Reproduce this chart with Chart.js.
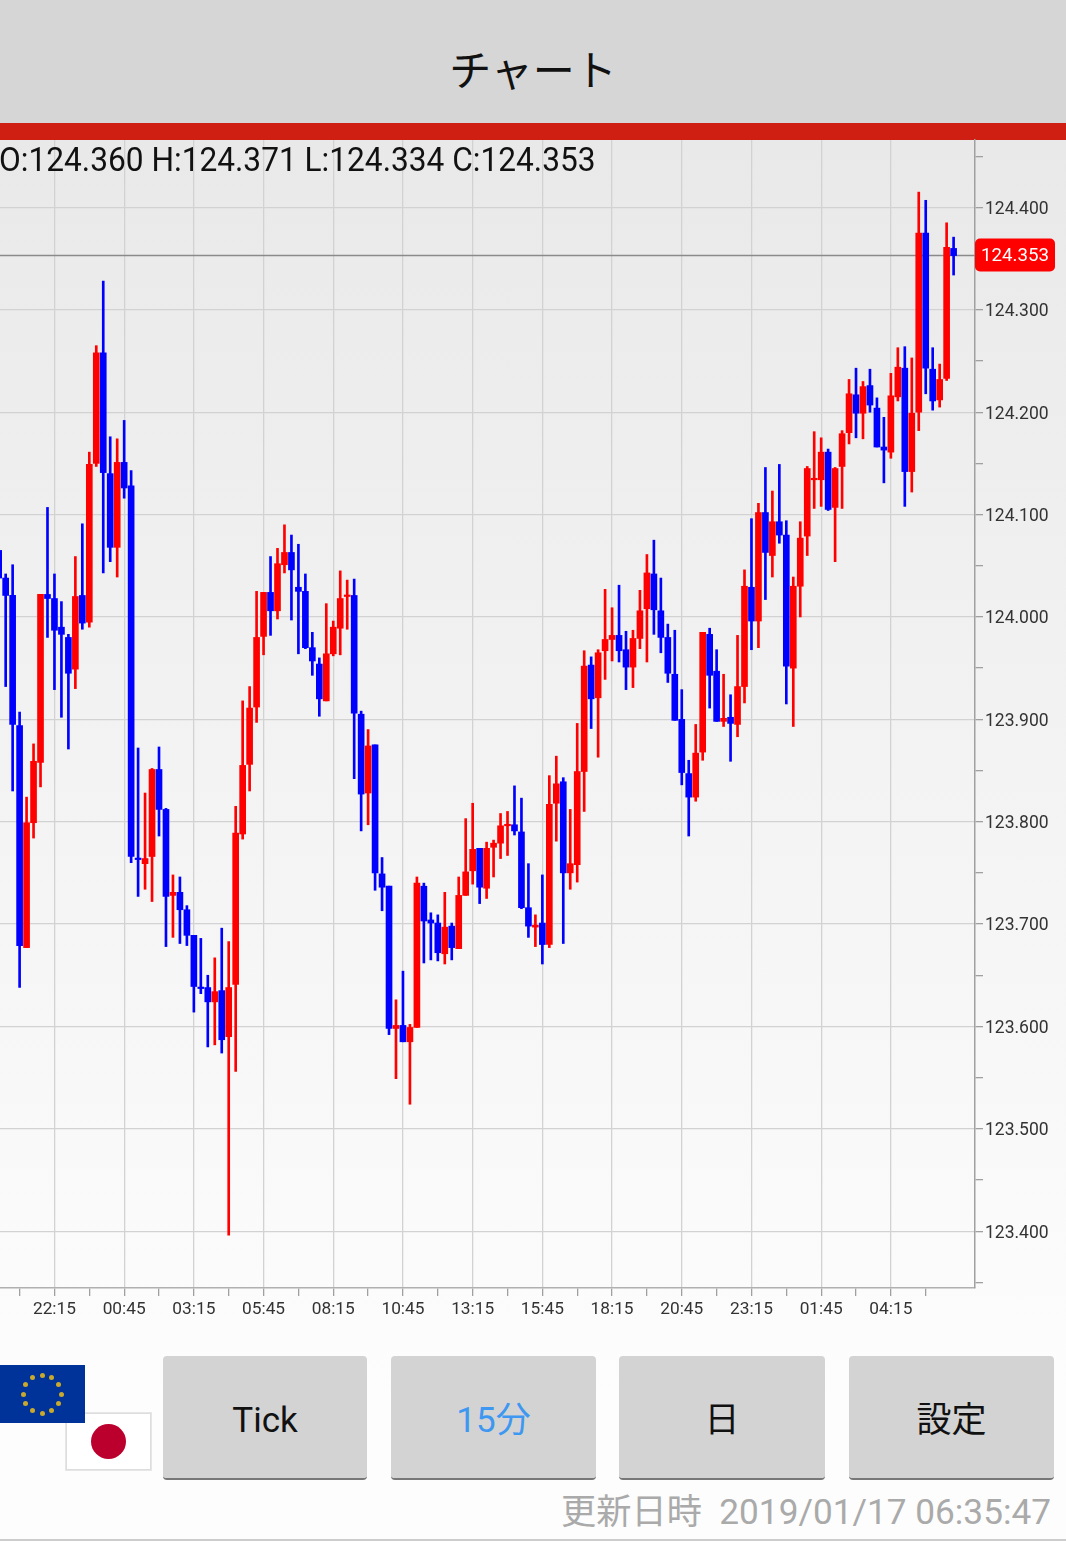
<!DOCTYPE html>
<html lang="ja">
<head>
<meta charset="utf-8">
<title>チャート</title>
<script src="https://cdn.jsdelivr.net/npm/chart.js@4"></script>
<style>
    html, body { margin: 0; padding: 0; }
    body {
        position: relative; width: 1066px; height: 1541px; overflow: hidden;
        background: linear-gradient(#e9e9e9 140px, #fdfdfd 1400px);
        font-family: Roboto, "Noto Sans CJK JP", sans-serif;
    }
    #header {
        position: absolute; left: 0; top: 0; width: 100%; height: 123px;
        background: #d6d6d6; text-align: center; font: 42px/136px "Noto Sans CJK JP", sans-serif; color: #111;
    }
    #redbar { position: absolute; left: 0; top: 123px; width: 100%; height: 17px; background: #cf1e12; }
    #chartWrap { position: absolute; left: 0; top: 0; width: 1066px; height: 1340px; }
    #ohlc {
        position: absolute; left: -1px; top: 138px; font-size: 34px; line-height: 42px; color: #111;
        white-space: pre; transform-origin: left top; transform: scaleX(0.931);
    }
    .btn {
        position: absolute; top: 1356px; height: 122px; background: #d3d3d3; border-radius: 4px;
        border-bottom: 2px solid #777; text-align: center; line-height: 130px; font-size: 35px; color: #111;
        font-family: Roboto, "Noto Sans CJK JP", sans-serif;
    }
    #flagEu { position: absolute; left: 0; top: 1365px; width: 85px; height: 58px; background: #003399; z-index: 2; }
    #flagEu i { position: absolute; width: 5px; height: 5px; border-radius: 50%; background: #c9a92c; }
    #flagJp {
        position: absolute; left: 66px; top: 1413px; width: 83px; height: 55px; background: #fff;
        border: 1px solid #ddd; outline: 1px solid #e6e6e6;
    }
    #flagJp b { position: absolute; left: 24px; top: 10px; width: 35px; height: 35px; border-radius: 50%; background: #bc002d; }
    #updated {
        position: absolute; right: 15px; top: 1490px; font-size: 35.2px; line-height: 44px; color: #aaa; white-space: pre;
    }
    #bottomLine { position: absolute; left: 0; top: 1539px; width: 100%; height: 2px; background: #ccc; }
</style>
</head>
<body>
<div id="header">チャート</div>
<div id="redbar"></div>
<div id="chartWrap"><canvas id="candleChart" width="1066" height="1340"></canvas></div>
<div id="ohlc"></div>
<div id="flagEu"></div>
<div id="flagJp"><b></b></div>
<div class="btn" style="left:163px;width:204px">Tick</div>
<div class="btn" style="left:391px;width:205px;color:#3e97f0">15分</div>
<div class="btn" style="left:619px;width:206px">日</div>
<div class="btn" style="left:849px;width:205px">設定</div>
<div id="updated">更新日時  2019/01/17 06:35:47</div>
<div id="bottomLine"></div>

<script>
// EUR/JPY 15分足 (読み取り値)
const opens = [
    124.065, 124.038, 124.021, 123.894, 123.677, 123.799, 123.858, 124.022, 124.018, 123.990,
    123.980, 123.949, 124.021, 123.995, 124.150, 124.258, 124.140, 124.068, 124.151, 124.128,
    123.764, 123.759, 123.766, 123.851, 123.812, 123.728, 123.731, 123.714, 123.689, 123.638,
    123.638, 123.624, 123.635, 123.590, 123.641, 123.788, 123.856, 123.912, 123.981, 124.024,
    124.006, 124.051, 124.063, 124.029, 124.025, 123.970, 123.954, 123.918, 123.964, 123.989,
    124.020, 124.021, 123.905, 123.828, 123.875, 123.749, 123.737, 123.598, 123.601, 123.585,
    123.599, 123.737, 123.704, 123.701, 123.671, 123.698, 123.676, 123.728, 123.752, 123.774,
    123.735, 123.775, 123.779, 123.796, 123.797, 123.790, 123.716, 123.697, 123.701, 123.680,
    123.818, 123.839, 123.750, 123.758, 123.849, 123.953, 123.921, 123.967, 123.978, 123.982,
    123.968, 123.951, 123.979, 124.008, 124.042, 124.006, 123.980, 123.944, 123.900, 123.847,
    123.824, 123.868, 123.983, 123.947, 123.898, 123.902, 123.895, 123.932, 124.029, 123.996,
    124.102, 124.060, 124.093, 124.080, 123.950, 124.030, 124.079, 124.134, 124.134, 124.161,
    124.107, 124.147, 124.180, 124.217, 124.199, 124.226, 124.204, 124.166, 124.161, 124.215,
    124.243, 124.142, 124.200, 124.375, 124.242, 124.212, 124.233, 124.360
];
const highs = [
    124.065, 124.042, 124.051, 123.907, 123.824, 123.876, 124.022, 124.107, 124.042, 124.015,
    123.983, 124.059, 124.091, 124.161, 124.265, 124.328, 124.176, 124.174, 124.192, 124.143,
    123.872, 123.828, 123.852, 123.873, 123.813, 123.748, 123.746, 123.718, 123.689, 123.686,
    123.650, 123.667, 123.696, 123.683, 123.815, 123.918, 123.932, 124.025, 124.024, 124.059,
    124.067, 124.090, 124.080, 124.071, 124.042, 123.985, 123.960, 124.013, 123.996, 124.045,
    124.036, 124.037, 123.908, 123.890, 123.875, 123.765, 123.737, 123.626, 123.654, 123.602,
    123.746, 123.740, 123.711, 123.709, 123.731, 123.701, 123.746, 123.803, 123.818, 123.774,
    123.780, 123.782, 123.808, 123.810, 123.835, 123.823, 123.759, 123.709, 123.748, 123.845,
    123.864, 123.843, 123.812, 123.896, 123.967, 123.961, 123.968, 124.027, 124.009, 124.031,
    123.986, 123.987, 124.026, 124.061, 124.075, 124.038, 123.993, 123.987, 123.929, 123.860,
    123.895, 123.985, 123.989, 123.968, 123.944, 123.924, 123.982, 124.046, 124.096, 124.111,
    124.146, 124.123, 124.149, 124.094, 124.039, 124.093, 124.147, 124.181, 124.175, 124.164,
    124.146, 124.182, 124.232, 124.243, 124.230, 124.242, 124.214, 124.195, 124.238, 124.263,
    124.264, 124.253, 124.415, 124.407, 124.263, 124.247, 124.385, 124.371
];
const lows = [
    124.038, 123.932, 123.830, 123.638, 123.677, 123.784, 123.834, 123.980, 123.929, 123.902,
    123.871, 123.930, 123.988, 123.990, 124.147, 124.043, 124.054, 124.039, 124.116, 123.760,
    123.727, 123.734, 123.722, 123.786, 123.678, 123.687, 123.681, 123.679, 123.614, 123.632,
    123.580, 123.582, 123.574, 123.396, 123.556, 123.783, 123.830, 123.897, 123.963, 123.982,
    123.998, 124.043, 123.997, 123.964, 123.969, 123.943, 123.903, 123.918, 123.962, 123.963,
    123.988, 123.842, 123.791, 123.797, 123.733, 123.713, 123.592, 123.549, 123.585, 123.524,
    123.599, 123.662, 123.665, 123.664, 123.661, 123.665, 123.676, 123.728, 123.739, 123.720,
    123.725, 123.746, 123.764, 123.767, 123.787, 123.715, 123.687, 123.678, 123.661, 123.677,
    123.781, 123.681, 123.734, 123.741, 123.810, 123.891, 123.863, 123.939, 123.957, 123.956,
    123.929, 123.931, 123.969, 123.956, 123.983, 123.965, 123.936, 123.899, 123.836, 123.786,
    123.820, 123.860, 123.911, 123.898, 123.893, 123.859, 123.883, 123.916, 123.968, 123.970,
    124.017, 124.039, 124.072, 123.915, 123.893, 124.000, 124.060, 124.106, 124.108, 124.104,
    124.054, 124.106, 124.169, 124.175, 124.174, 124.200, 124.166, 124.131, 124.155, 124.211,
    124.108, 124.122, 124.182, 124.218, 124.202, 124.205, 124.231, 124.334
];
const closes = [
    124.038, 124.021, 123.895, 123.679, 123.799, 123.859, 124.022, 124.018, 123.987, 123.983,
    123.945, 124.020, 123.994, 124.149, 124.258, 124.141, 124.068, 124.151, 124.126, 123.766,
    123.763, 123.764, 123.851, 123.812, 123.727, 123.731, 123.714, 123.689, 123.639, 123.637,
    123.624, 123.634, 123.587, 123.638, 123.789, 123.855, 123.911, 123.980, 124.024, 124.006,
    124.052, 124.063, 124.046, 124.025, 123.970, 123.957, 123.920, 123.964, 123.990, 124.018,
    124.021, 123.906, 123.827, 123.874, 123.750, 123.736, 123.598, 123.601, 123.585, 123.599,
    123.740, 123.703, 123.701, 123.672, 123.697, 123.677, 123.728, 123.751, 123.773, 123.736,
    123.774, 123.779, 123.796, 123.797, 123.791, 123.716, 123.698, 123.699, 123.680, 123.817,
    123.837, 123.750, 123.759, 123.849, 123.952, 123.920, 123.965, 123.978, 123.982, 123.967,
    123.951, 123.979, 124.006, 124.043, 124.007, 123.980, 123.945, 123.899, 123.848, 123.824,
    123.867, 123.985, 123.943, 123.898, 123.901, 123.896, 123.932, 124.030, 123.996, 124.102,
    124.063, 124.093, 124.080, 123.952, 124.030, 124.077, 124.145, 124.135, 124.161, 124.105,
    124.145, 124.179, 124.218, 124.199, 124.225, 124.207, 124.166, 124.163, 124.216, 124.244,
    124.142, 124.199, 124.375, 124.243, 124.211, 124.232, 124.361, 124.353
];

// 時間軸: 目盛りは5本ごと、ラベルは10本ごと
const timeLabels = ['22:15', '00:45', '03:15', '05:45', '08:15', '10:45', '13:15', '15:45',
    '18:15', '20:45', '23:15', '01:45', '04:15'];
const timeLabelIndex = [8, 18, 28, 38, 48, 58, 68, 78, 88, 98, 108, 118, 128];
const timeMinorIndex = [3, 13, 23, 33, 43, 53, 63, 73, 83, 93, 103, 113, 123, 133];

// 価格軸
const priceLabels = [123.4, 123.5, 123.6, 123.7, 123.8, 123.9, 124.0, 124.1, 124.2, 124.3, 124.4];
const priceMinor = [123.35, 123.45, 123.55, 123.65, 123.75, 123.85, 123.95, 124.05, 124.15, 124.25, 124.35, 124.45];

const lastQuote = { o: opens[opens.length - 1], h: highs[highs.length - 1], l: lows[lows.length - 1], c: closes[closes.length - 1] };

const UP_COLOR = '#ff0000';
const DOWN_COLOR = '#0000ff';
const barColors = closes.map((c, i) => c >= opens[i] ? UP_COLOR : DOWN_COLOR);

document.getElementById('ohlc').textContent =
    `O:${lastQuote.o.toFixed(3)} H:${lastQuote.h.toFixed(3)} L:${lastQuote.l.toFixed(3)} C:${lastQuote.c.toFixed(3)}`;

// EU旗の星
const flag = document.getElementById('flagEu');
for (let n = 0; n < 12; n++) {
    const star = document.createElement('i');
    const a = n * Math.PI / 6;
    star.style.left = (42 - 2.5 + 19 * Math.sin(a)) + 'px';
    star.style.top = (29 - 2.5 - 19 * Math.cos(a)) + 'px';
    flag.appendChild(star);
}

// 現在値のラインとラベル
const lastPricePlugin = {
    id: 'lastPrice',
    beforeDatasetsDraw(chart) {
        const { ctx, chartArea, scales } = chart;
        const y = scales.y.getPixelForValue(lastQuote.c);
        ctx.save();
        ctx.strokeStyle = '#8a8a8a';
        ctx.lineWidth = 1.5;
        ctx.beginPath();
        ctx.moveTo(chartArea.left, y);
        ctx.lineTo(chartArea.right, y);
        ctx.stroke();
        ctx.restore();
    },
    afterDraw(chart) {
        const { ctx, chartArea, scales } = chart;
        const y = scales.y.getPixelForValue(lastQuote.c);
        ctx.save();
        ctx.fillStyle = '#ff0000';
        ctx.beginPath();
        ctx.roundRect(chartArea.right, y - 17, 80, 33, 5);
        ctx.fill();
        ctx.fillStyle = '#fff';
        ctx.font = '18.7px Roboto';
        ctx.textAlign = 'center';
        ctx.textBaseline = 'middle';
        ctx.fillText(lastQuote.c.toFixed(3), chartArea.right + 40, y + 1);
        ctx.restore();
    }
};

const ctx = document.getElementById('candleChart').getContext('2d');
new Chart(ctx, {
    type: 'bar',
    data: {
        datasets: [
            {
                label: 'body',
                data: closes.map((c, i) => ({ x: i, y: [Math.min(opens[i], c), Math.max(opens[i], c)] })),
                backgroundColor: barColors,
                barThickness: 6,
                minBarLength: 1.5,
                grouped: false,
                order: 1
            },
            {
                label: 'wick',
                data: highs.map((h, i) => ({ x: i, y: [lows[i], h] })),
                backgroundColor: barColors,
                barThickness: 2,
                grouped: false,
                order: 2
            }
        ]
    },
    options: {
        responsive: false,
        maintainAspectRatio: false,
        animation: false,
        layout: { autoPadding: false, padding: { top: 140 } },
        plugins: {
            legend: { display: false },
            tooltip: { enabled: false }
        },
        scales: {
            x: {
                type: 'linear',
                offset: false,
                min: 0.187,
                max: 140.07,
                afterBuildTicks: scale => {
                    scale.ticks = timeLabelIndex.concat(timeMinorIndex).sort((a, b) => a - b).map(v => ({ value: v }));
                },
                afterFit: scale => { scale.height = 52; },
                grid: {
                    offset: false,
                    color: c => timeLabelIndex.includes(c.tick && c.tick.value) ? '#d2d2d2' : 'rgba(0,0,0,0)',
                    lineWidth: 1.3,
                    tickColor: '#a0a0a0',
                    tickLength: 8
                },
                border: { color: '#b0b0b0', width: 1.5 },
                ticks: {
                    autoSkip: false,
                    maxRotation: 0,
                    padding: 3.5,
                    color: '#333',
                    font: { family: 'Roboto', size: 17.3 },
                    callback: value => {
                        const k = timeLabelIndex.indexOf(value);
                        return k >= 0 ? timeLabels[k] : '';
                    }
                }
            },
            y: {
                position: 'right',
                min: 123.3445,
                max: 124.4659,
                afterBuildTicks: scale => {
                    scale.ticks = priceLabels.concat(priceMinor).sort((a, b) => a - b).map(v => ({ value: v }));
                },
                afterFit: scale => { scale.width = 91; },
                grid: {
                    color: c => priceLabels.includes(c.tick && c.tick.value) ? '#d2d2d2' : 'rgba(0,0,0,0)',
                    lineWidth: 1.3,
                    tickColor: '#a0a0a0',
                    tickLength: 8
                },
                border: { color: '#a0a0a0', width: 1.5 },
                ticks: {
                    autoSkip: false,
                    padding: 2,
                    labelOffset: 2,
                    color: '#333',
                    font: { family: 'Roboto', size: 17.5 },
                    callback: value => priceLabels.includes(value) ? value.toFixed(3) : ''
                }
            }
        }
    },
    plugins: [lastPricePlugin]
});
</script>
</body>
</html>
